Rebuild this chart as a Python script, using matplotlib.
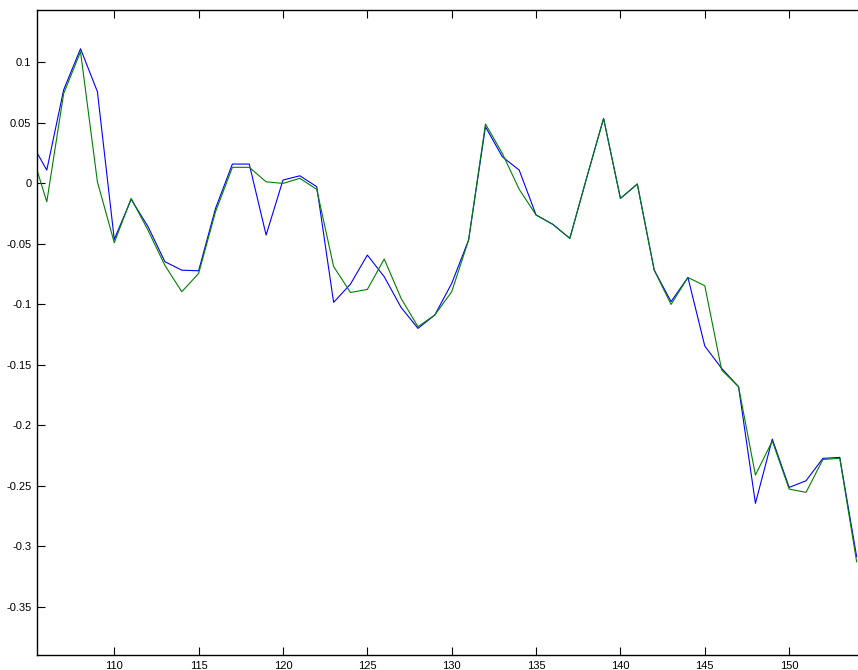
import matplotlib
matplotlib.use("Agg")
import matplotlib.pyplot as plt
from matplotlib.ticker import FuncFormatter, MultipleLocator

plt.rcParams['font.family'] = ['Liberation Sans', 'DejaVu Sans']

x = list(range(105, 155))
blue = [0.0354, 0.0107, 0.077, 0.111, 0.0755, -0.0465, -0.0135, -0.036, -0.065, -0.072,
        -0.0725, -0.021, 0.0157, 0.0157, -0.043, 0.0025, 0.006, -0.003, -0.0986, -0.0835,
        -0.0595, -0.0774, -0.1028, -0.1201, -0.109, -0.0829, -0.0471, 0.0465, 0.0217, 0.0107,
        -0.0264, -0.0342, -0.0457, 0.0044, 0.0534, -0.0127, -0.0008, -0.0719, -0.098, -0.078,
        -0.1347, -0.1532, -0.1683, -0.2647, -0.2116, -0.2515, -0.246, -0.2275, -0.2267, -0.3088]
green = [0.0297, -0.0155, 0.074, 0.1085, 0.001, -0.0493, -0.0127, -0.039, -0.068, -0.0898,
         -0.0747, -0.0237, 0.013, 0.013, 0.001, -0.0003, 0.0039, -0.0052, -0.069, -0.0904,
         -0.0879, -0.0628, -0.0953, -0.1187, -0.109, -0.0898, -0.0471, 0.0488, 0.0245, -0.0052,
         -0.0264, -0.0342, -0.0457, 0.0044, 0.0534, -0.0127, -0.0008, -0.0719, -0.1003, -0.078,
         -0.0849, -0.1545, -0.1683, -0.2413, -0.2132, -0.2529, -0.2556, -0.2284, -0.2275, -0.313]

W, H = 858, 670
fig = plt.figure(figsize=(W / 100, H / 100), dpi=100)
ax = fig.add_axes([37 / W, 1 - 655 / H, 1 - 37 / W, (655 - 10) / H])

ax.plot(x, blue, color=(0, 0, 1), lw=0.8)
ax.plot(x, green, color=(0, 0.5, 0), lw=0.8)

ax.set_xlim(105.42, 154.08)
ax.set_ylim(-0.39, 0.143)
ax.xaxis.set_major_locator(MultipleLocator(5))
ax.yaxis.set_major_locator(MultipleLocator(0.05))
fmt = FuncFormatter(lambda v, p: ('%g' % round(v, 4)).replace('-0', '-0') if abs(v) > 1e-9 else '0')
ax.yaxis.set_major_formatter(fmt)
ax.xaxis.set_major_formatter(FuncFormatter(lambda v, p: '%d' % round(v)))

ax.tick_params(direction='in', length=6, width=0.8, labelsize=8, pad=4,
               top=True, right=False, colors='black')
ax.spines['right'].set_visible(False)
for s in ['left', 'top', 'bottom']:
    ax.spines[s].set_linewidth(1.0)

fig.savefig('out.png', dpi=100)
